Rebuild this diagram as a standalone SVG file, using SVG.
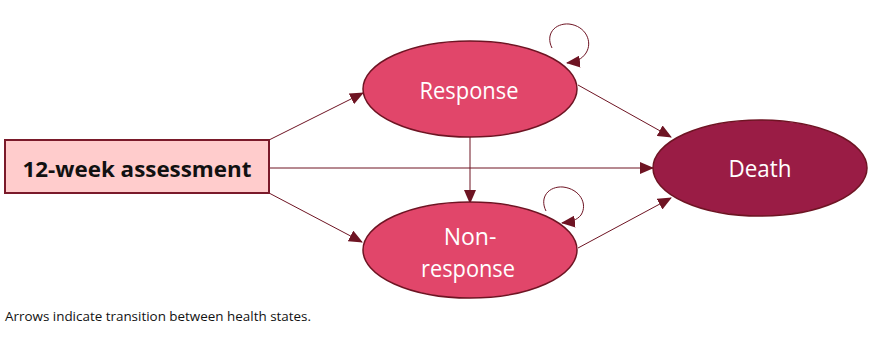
<svg xmlns="http://www.w3.org/2000/svg" width="896" height="337" viewBox="0 0 896 337">
<style>
.st{fill:#E1466A;stroke:#6E1423;stroke-width:1.5}
.dt{fill:#9A1C45;stroke:#6E1423;stroke-width:1.5}
.bx{fill:#FFCCCC;stroke:#7A1A2A;stroke-width:2}
.lbl{font-family:"Open Sans","Liberation Sans",sans-serif;fill:#fff;text-anchor:middle}
.cn{fill:none;stroke:#6E1423;stroke-width:1}
</style>
<defs>
<marker id="ah" markerUnits="userSpaceOnUse" markerWidth="14" markerHeight="12" viewBox="0 0 14 12" refX="13" refY="6" orient="auto">
<path d="M0,0 L14,6 L0,12 z" fill="#6E1423"/>
</marker>
</defs>
<rect width="896" height="337" fill="#fff"/>
<g id="connectors">
<line class="cn" x1="269" y1="140" x2="363" y2="93" marker-end="url(#ah)"/>
<line class="cn" x1="269" y1="168" x2="653" y2="168" marker-end="url(#ah)"/>
<line class="cn" x1="269" y1="193" x2="362" y2="242" marker-end="url(#ah)"/>
<line class="cn" x1="470" y1="137" x2="470" y2="203" marker-end="url(#ah)"/>
<line class="cn" x1="578" y1="85" x2="671" y2="137" marker-end="url(#ah)"/>
<line class="cn" x1="578" y1="248" x2="671" y2="198" marker-end="url(#ah)"/>
<path class="cn" d="M552,48 C545,34 555,23 569,24 C586,26 593,42 586,53 C582,59 576,62 567,63" marker-end="url(#ah)"/>
<path class="cn" d="M546,211 C539,197 549,186 563,187 C580,189 588,204 581,215 C577,220 571,222 562,223" marker-end="url(#ah)"/>
</g>
<g id="assessment">
<rect class="bx" x="5" y="140" width="264" height="53"/>
<text x="137" y="177" font-family="'Open Sans','Liberation Sans',sans-serif" font-weight="bold" font-size="22" text-anchor="middle" fill="#111" textLength="229" lengthAdjust="spacingAndGlyphs">12-week assessment</text>
</g>
<g id="response">
<ellipse class="st" cx="470" cy="89" rx="107" ry="48"/>
<text class="lbl" x="469" y="99" font-size="23" textLength="99" lengthAdjust="spacingAndGlyphs">Response</text>
</g>
<g id="nonresponse">
<ellipse class="st" cx="470" cy="250" rx="107" ry="48"/>
<text class="lbl" x="470" y="245" font-size="23">Non-</text>
<text class="lbl" x="468" y="277" font-size="23" textLength="94" lengthAdjust="spacingAndGlyphs">response</text>
</g>
<g id="death">
<ellipse class="dt" cx="760" cy="168" rx="107" ry="48"/>
<text class="lbl" x="760" y="177" font-size="23" textLength="63" lengthAdjust="spacingAndGlyphs">Death</text>
</g>
<text x="5" y="321" font-family="'Open Sans','Liberation Sans',sans-serif" font-size="12" fill="#111" textLength="306" lengthAdjust="spacingAndGlyphs">Arrows indicate transition between health states.</text>
</svg>
